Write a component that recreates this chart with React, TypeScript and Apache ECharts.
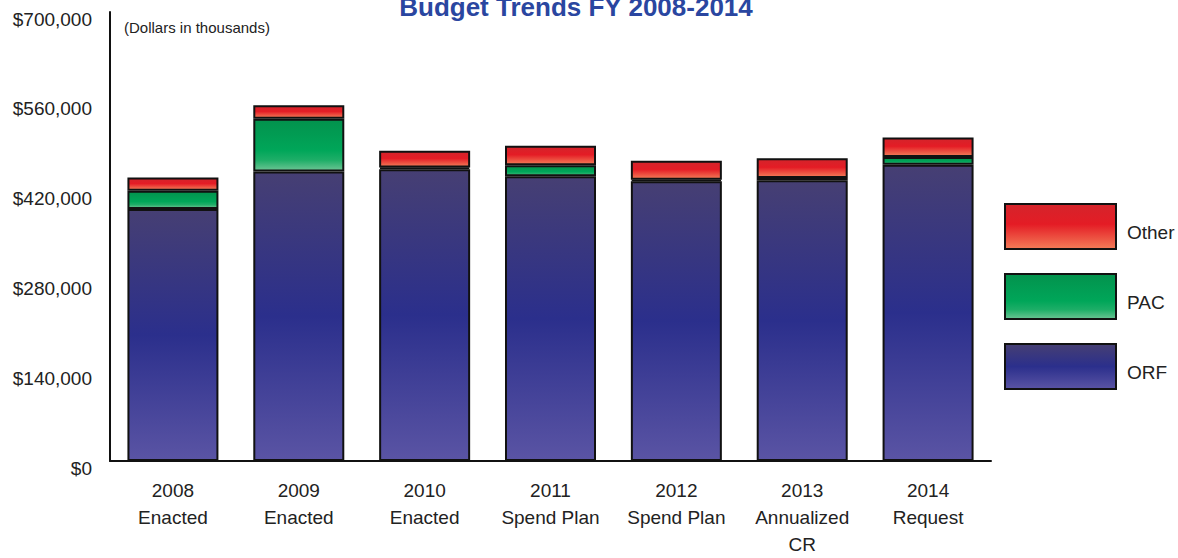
import React, { useEffect, useRef } from "react";
import * as echarts from "echarts";

const categories = [
  "2008\nEnacted",
  "2009\nEnacted",
  "2010\nEnacted",
  "2011\nSpend Plan",
  "2012\nSpend Plan",
  "2013\nAnnualized\nCR",
  "2014\nRequest",
];
const orf = [393000, 451500, 455000, 443800, 436000, 437600, 462000];
const pac = [28500, 82000, 2500, 17100, 2500, 3700, 12000];
const other = [20300, 21300, 26300, 30600, 29700, 30500, 30500];
const yTicks = { min: 0, max: 700000, interval: 140000 };
const titleText = "Budget Trends FY 2008-2014";
const unitText = "(Dollars in thousands)";

const FONT = '"Liberation Sans", Arial, sans-serif';

const grad = (stops: [number, string][]) =>
  new echarts.graphic.LinearGradient(
    0,
    0,
    0,
    1,
    stops.map(([offset, color]) => ({ offset, color }))
  );

export default function App() {
  const ref = useRef<HTMLDivElement>(null);
  useEffect(() => {
    document.body.style.margin = "0";
    if (!ref.current) return;
    const chart = echarts.init(ref.current, undefined, { renderer: "svg" });
    const orfColor = grad([
      [0, "#463f73"],
      [0.5, "#2b2f8c"],
      [1, "#5a54a4"],
    ]);
    const pacColor = grad([
      [0, "#03924d"],
      [0.6, "#00a659"],
      [0.8, "#1fae68"],
      [1, "#6cc494"],
    ]);
    const otherColor = grad([
      [0, "#d4242b"],
      [0.45, "#e41c25"],
      [1, "#f37c58"],
    ]);
    const border = { borderColor: "#111", borderWidth: 2 };
    chart.setOption({
      animation: false,
      backgroundColor: "#ffffff",
      grid: {
        left: 110,
        right: 187,
        top: 12,
        bottom: 96,
        containLabel: false,
      },
      graphic: [
        {
          type: "text",
          x: 576,
          y: 20,
          style: {
            text: titleText,
            font: `bold 26px ${FONT}`,
            fill: "#2a46a0",
            align: "center",
            verticalAlign: "bottom",
          },
        },
        {
          type: "text",
          x: 124,
          y: 27,
          style: {
            text: unitText,
            font: `15px ${FONT}`,
            fill: "#222",
            align: "left",
            verticalAlign: "middle",
          },
        },
      ],
      legend: {
        orient: "vertical",
        left: 1004,
        top: 203,
        itemWidth: 111,
        itemHeight: 45,
        itemGap: 23,
        padding: 0,
        icon: "rect",
        data: ["Other", "PAC", "ORF"],
        formatter: "{a|{name}}",
        textStyle: {
          fontFamily: FONT,
          fontSize: 19,
          color: "#222",
          rich: {
            a: {
              fontFamily: FONT,
              fontSize: 19,
              color: "#222",
              padding: [12, 0, 0, 6],
            },
          },
        },
      },
      xAxis: {
        type: "category",
        data: categories,
        axisLine: { show: true, lineStyle: { color: "#111", width: 2 } },
        axisTick: { show: false },
        axisLabel: {
          interval: 0,
          hideOverlap: false,
          margin: 16,
          lineHeight: 27,
          fontFamily: FONT,
          fontSize: 19,
          color: "#222",
        },
      },
      yAxis: {
        type: "value",
        min: yTicks.min,
        max: yTicks.max,
        interval: yTicks.interval,
        splitLine: { show: false },
        axisLine: { show: true, lineStyle: { color: "#111", width: 2 } },
        axisTick: { show: false },
        axisLabel: {
          margin: 18,
          fontFamily: FONT,
          fontSize: 19,
          color: "#222",
          verticalAlign: "top",
          lineHeight: 14,
          formatter: (v: number) => "$" + v.toLocaleString("en-US"),
        },
      },
      series: [
        {
          name: "ORF",
          type: "bar",
          stack: "total",
          barWidth: 91,
          data: orf,
          itemStyle: { color: orfColor, ...border },
        },
        {
          name: "PAC",
          type: "bar",
          stack: "total",
          barWidth: 91,
          data: pac,
          itemStyle: { color: pacColor, ...border },
        },
        {
          name: "Other",
          type: "bar",
          stack: "total",
          barWidth: 91,
          data: other,
          itemStyle: { color: otherColor, ...border },
        },
      ],
    });
    return () => chart.dispose();
  }, []);
  return <div ref={ref} style={{ width: 1178, height: 558 }} />;
}
